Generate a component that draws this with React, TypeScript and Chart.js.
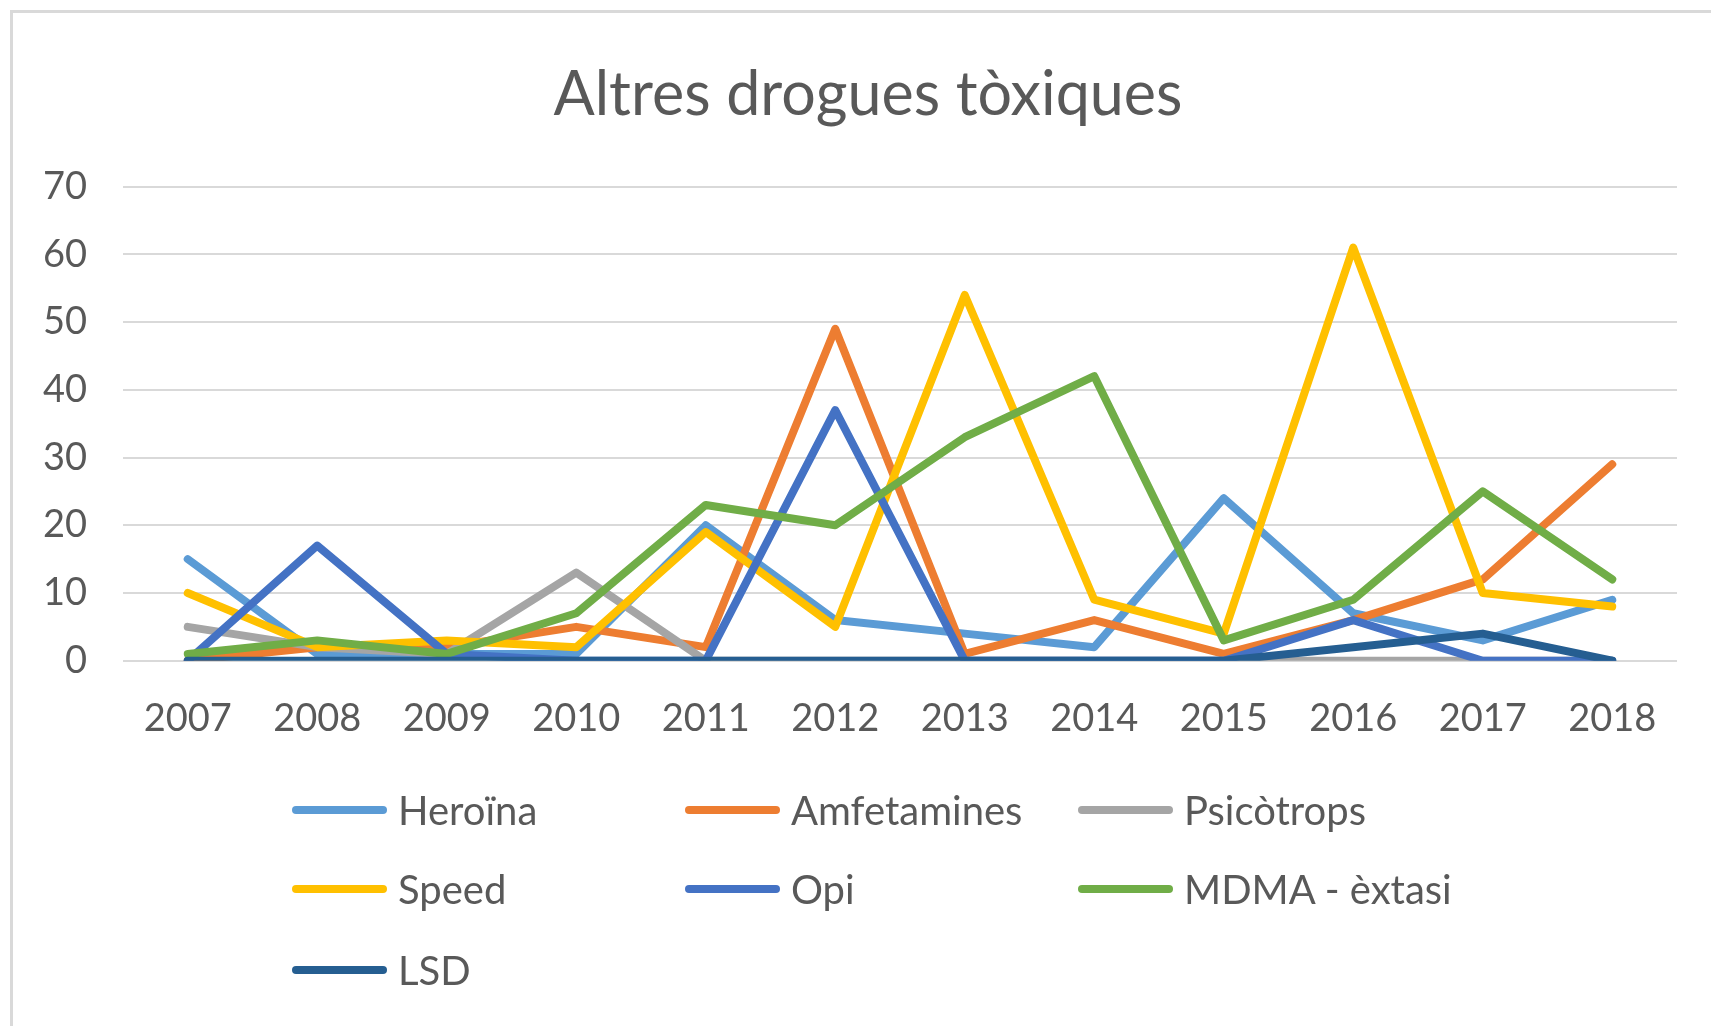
import React, { useEffect, useRef } from "react";
import { Chart, registerables } from "chart.js";

Chart.register(...registerables);

const years = ["2007", "2008", "2009", "2010", "2011", "2012", "2013", "2014", "2015", "2016", "2017", "2018"];
const heroina = [15, 1, 1, 1, 20, 6, 4, 2, 24, 7, 3, 9];
const amfetamines = [0, 2, 2, 5, 2, 49, 1, 6, 1, 6, 12, 29];
const psicotrops = [5, 2, 1, 13, 0, 0, 0, 0, 0, 0, 0, 0];
const speed = [10, 2, 3, 2, 19, 5, 54, 9, 4, 61, 10, 8];
const opi = [0, 17, 1, 0, 0, 37, 0, 0, 0, 6, 0, 0];
const mdma = [1, 3, 1, 7, 23, 20, 33, 42, 3, 9, 25, 12];
const lsd = [0, 0, 0, 0, 0, 0, 0, 0, 0, 2, 4, 0];

const seriesNames = ["Heroïna", "Amfetamines", "Psicòtrops", "Speed", "Opi", "MDMA - èxtasi", "LSD"];
const seriesValues = [heroina, amfetamines, psicotrops, speed, opi, mdma, lsd];
const seriesColors = ["#5B9BD5", "#ED7D31", "#A5A5A5", "#FFC000", "#4472C4", "#70AD47", "#255E91"];

const titleText = "Altres drogues tòxiques";
const FONT = "Lato, 'Open Sans', sans-serif";
const TEXT = "#595959";

export default function App() {
  const ref = useRef<HTMLCanvasElement>(null);

  useEffect(() => {
    if (!ref.current) return;
    const n = seriesNames.length;
    const chart = new Chart(ref.current, {
      type: "line",
      data: {
        labels: years,
        datasets: seriesNames.map((name, i) => ({
          label: name,
          data: seriesValues[i],
          borderColor: seriesColors[i],
          backgroundColor: seriesColors[i],
          borderWidth: 8,
          borderCapStyle: "round" as const,
          borderJoinStyle: "round" as const,
          pointRadius: 0,
          tension: 0,
          fill: false,
          order: n - 1 - i,
        })),
      },
      options: {
        responsive: false,
        animation: false,
        layout: { padding: { top: 186.6, left: 0, right: 34, bottom: 0 } },
        plugins: {
          legend: { display: false },
          title: { display: false },
          tooltip: { enabled: false },
        },
        scales: {
          x: {
            type: "category",
            offset: true,
            grid: { display: false, drawTicks: false },
            border: { display: false },
            ticks: {
              color: TEXT,
              font: { family: FONT, size: 38 },
              padding: 35,
              maxRotation: 0,
              autoSkip: false,
            },
            afterFit: (s: any) => {
              s.height = 365.3;
            },
          },
          y: {
            min: 0,
            max: 70,
            ticks: {
              stepSize: 10,
              color: TEXT,
              font: { family: FONT, size: 38 },
              padding: 36,
            },
            grid: { color: "#D9D9D9", lineWidth: 2, drawTicks: false },
            border: { display: false },
            afterFit: (s: any) => {
              s.width = 123;
            },
          },
        },
      },
    });
    return () => chart.destroy();
  }, []);

  const legendCols = [292, 685, 1078];
  const legendRows = [810, 889, 970];

  return (
    <div style={{ position: "absolute", left: 0, top: 0, width: 1711, height: 1026, background: "#fff", overflow: "hidden" }}>
      <div
        style={{
          position: "absolute",
          left: 10,
          top: 10,
          width: 1711,
          height: 1026,
          borderLeft: "3px solid #D9D9D9",
          borderTop: "3px solid #D9D9D9",
          boxSizing: "border-box",
        }}
      />
      <canvas ref={ref} width={1711} height={1026} style={{ position: "absolute", left: 0, top: 0 }} />
      <div
        style={{
          position: "absolute",
          left: 25,
          width: 1711 - 25,
          top: 92 - 40,
          height: 80,
          lineHeight: "80px",
          textAlign: "center",
          fontFamily: FONT,
          fontSize: 61,
          color: TEXT,
        }}
      >
        {titleText}
      </div>
      {seriesNames.map((name, i) => {
        const col = i % 3;
        const row = Math.floor(i / 3);
        const x = legendCols[col];
        const y = legendRows[row];
        return (
          <div key={name} style={{ position: "absolute", left: x, top: y - 25, height: 50, display: "flex", alignItems: "center" }}>
            <div style={{ width: 95, height: 8, borderRadius: 4, background: seriesColors[i] }} />
            <span style={{ marginLeft: 11, fontFamily: FONT, fontSize: 40, color: TEXT, whiteSpace: "nowrap" }}>{name}</span>
          </div>
        );
      })}
    </div>
  );
}
